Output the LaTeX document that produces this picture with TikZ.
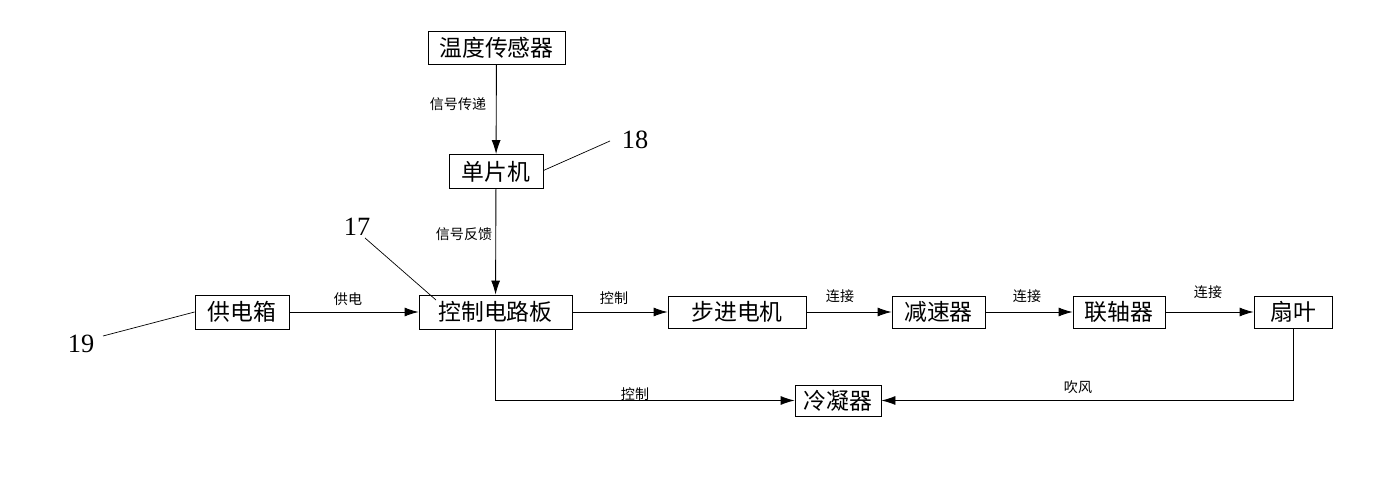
\documentclass[tikz,border=0pt]{standalone}
\usepackage{fontspec}
\setmainfont{Liberation Serif}
\newfontfamily\cjk{Noto Sans CJK SC}
\usetikzlibrary{positioning,arrows.meta}

\begin{document}
\begin{tikzpicture}[
  x=0.02cm, y=-0.02cm,
  box/.style={draw=black, line width=0.5pt, inner sep=0pt, minimum height=0.68cm,
              font=\cjk\fontsize{13}{15}\selectfont},
  lbl/.style={font=\cjk\fontsize{8}{10}\selectfont, inner sep=1pt},
  num/.style={font=\fontsize{15}{17}\selectfont, inner sep=0pt},
  arr/.style={-{Latex[length=14*0.02cm, width=9*0.02cm]}, line width=0.5pt},
  lead/.style={line width=0.4pt}]

\useasboundingbox (0,0) rectangle (1394,503);

% boxes
\node[box, minimum width=137*0.02cm, minimum height=33*0.02cm] (sensor) at (496.5,47.5) {温度传感器};
\node[box, minimum width=94*0.02cm] (mcu) at (496,171.5) {单片机};
\node[box, minimum width=94*0.02cm] (power) at (242,312) {供电箱};
\node[box, minimum width=153*0.02cm] (ctrl) at (495.5,312) {控制电路板};
\node[box, minimum width=138*0.02cm, minimum height=32*0.02cm] (motor) at (737,312) {步进电机};
\node[box, minimum width=93*0.02cm, minimum height=32*0.02cm] (reducer) at (938.5,312) {减速器};
\node[box, minimum width=92*0.02cm, minimum height=32*0.02cm] (coupling) at (1119,312) {联轴器};
\node[box, minimum width=78*0.02cm, minimum height=32*0.02cm] (fan) at (1293,312) {扇叶};
\node[box, minimum width=86*0.02cm, minimum height=31*0.02cm] (cond) at (838,400.5) {冷凝器};

% connectors
\draw[arr] (sensor) -- (mcu);
\draw[arr] (mcu) -- (ctrl);
\draw[arr] (power) -- (ctrl);
\draw[arr] (ctrl) -- (motor);
\draw[arr] (motor) -- (reducer);
\draw[arr] (reducer) -- (coupling);
\draw[arr] (coupling) -- (fan);
\draw[arr] (ctrl.south) |- (cond.west);
\draw[arr] (fan.south) |- (cond.east);

% labels
\node[lbl] (l1) at (458,104) {信号传递};
\node[lbl] (l2) at (464,234) {信号反馈};
\node[lbl] (l3) at (348,299) {供电};
\node[lbl] (l4) at (614,298) {控制};
\node[lbl] (l5) at (840,296) {连接};
\node[lbl] (l6) at (1027,296) {连接};
\node[lbl] (l7) at (1208,292) {连接};
\node[lbl] (l8) at (635,394) {控制};
\node[lbl] (l9) at (1078,387) {吹风};

% part numbers
\node[num] (n18) at (635,140) {18};
\node[num] (n17) at (357,227) {17};
\node[num] (n19) at (81,344) {19};
\coordinate (p18) at (610,141);
\coordinate (p17) at (365,238);
\coordinate (q17) at (436,300);
\coordinate (p19) at (103,336);
\draw[lead] (mcu.east) ++(0,-1) -- (p18);
\draw[lead] (p17) -- (q17);
\draw[lead] (power.west) -- (p19);
\end{tikzpicture}
\end{document}
